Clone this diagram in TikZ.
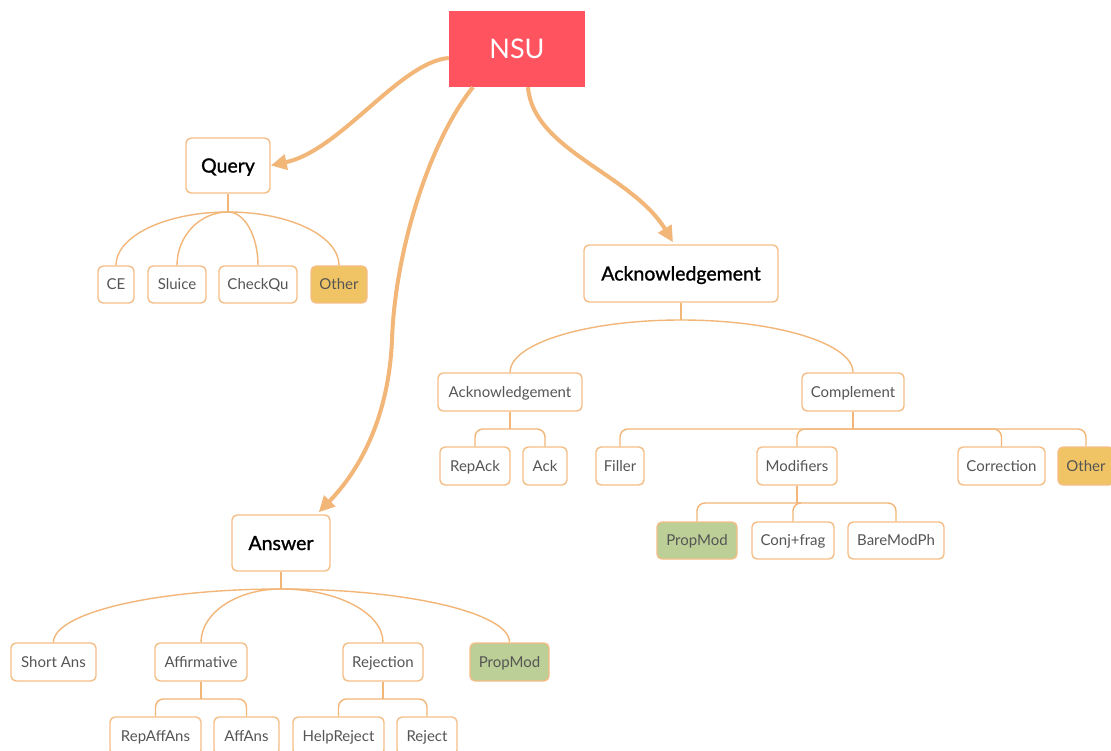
\documentclass[tikz,border=0pt]{standalone}
\usepackage{fontspec}
\setmainfont{Lato}
\newfontface\headfont{Lato}[FakeBold=1.2]
\usetikzlibrary{arrows.meta,calc}
\definecolor{nsured}{RGB}{255,84,96}
\definecolor{orline}{RGB}{242,182,120}
\definecolor{orbox}{RGB}{245,190,135}
\definecolor{yelfill}{RGB}{240,196,100}
\definecolor{grnfill}{RGB}{187,207,150}
\definecolor{subtext}{RGB}{85,85,85}
\newcommand\curvelink[2]{\draw[link] (#1) .. controls ($(#1)!0.552!(#2|-#1)$) and ($(#2)!0.552!(#2|-#1)$) .. (#2);}
\newcommand\elbowlink[2]{\draw[link, rounded corners=8pt] (#1) -| (#2);}
\begin{document}
\begin{tikzpicture}[x=1pt,y=-1pt,
  box/.style={draw=orbox, line width=1.4pt, rounded corners=5pt, fill=white, inner sep=0pt, anchor=center, text depth=0pt},
  head/.style={box, text=black, font=\headfont\fontsize{19.5}{22}\selectfont, text height=14pt},
  sub/.style={box, text=subtext, font=\fontsize{15}{18}\selectfont, minimum height=38pt, text height=10.75pt},
  other/.style={sub, fill=yelfill},
  prop/.style={sub, fill=grnfill},
  link/.style={draw=orline, line width=1.4pt},
  mainarrow/.style={draw=orline, line width=4pt, -{Triangle[length=16pt,width=15pt]}},
]
\useasboundingbox[fill=white] (0,0) rectangle (1111,751);

% root
\node[fill=nsured, minimum width=136pt, minimum height=76pt, text=white,
      font=\fontsize{27}{30}\selectfont, inner sep=0pt, text height=19.4pt, text depth=0pt] (nsu) at (517,49) {NSU};

% Query branch
\node[head, minimum width=84pt, minimum height=55pt] (query) at (228,165.5) {Query};
\node[sub, minimum width=36pt, minimum height=37pt] (ce) at (116,284.5) {CE};
\node[sub, minimum width=58pt, minimum height=37pt] (sluice) at (177,284.5) {Sluice};
\node[sub, minimum width=78pt, minimum height=37pt] (checkqu) at (258,284.5) {CheckQu};
\node[other, minimum width=56pt, minimum height=37pt] (otherq) at (339,284.5) {Other};

% Acknowledgement branch
\node[head, minimum width=194pt, minimum height=57pt] (ackbig) at (681,273.5) {Acknowledgement};
\node[sub, minimum width=144pt] (acksmall) at (510,392) {Acknowledgement};
\node[sub, minimum width=102pt] (compl) at (853,392) {Complement};
\node[sub, minimum width=70pt] (repack) at (475,466) {RepAck};
\node[sub, minimum width=44pt] (ack) at (545,466) {Ack};
\node[sub, minimum width=48pt] (filler) at (620,466) {Filler};
\node[sub, minimum width=80pt] (modif) at (797,466) {Modifiers};
\node[sub, minimum width=87pt] (corr) at (1001.5,466) {Correction};
\node[other, minimum width=56pt] (otherc) at (1086,466) {Other};
\node[prop, minimum width=80pt, minimum height=37pt] (propm) at (697,540.5) {PropMod};
\node[sub, minimum width=82pt, minimum height=37pt] (conj) at (793,540.5) {Conj+frag};
\node[sub, minimum width=96pt, minimum height=37pt] (bare) at (896,540.5) {BareModPh};

% Answer branch
\node[head, minimum width=98pt, minimum height=56pt] (answer) at (281,543) {Answer};
\node[sub, minimum width=85pt] (shortans) at (53.5,662) {Short Ans};
\node[sub, minimum width=92pt] (affirm) at (201,662) {Affirmative};
\node[sub, minimum width=80pt] (rejn) at (383,662) {Rejection};
\node[prop, minimum width=79pt] (propa) at (509.5,662) {PropMod};
\node[sub, minimum width=91pt] (repaff) at (155.5,736) {RepAffAns};
\node[sub, minimum width=65pt] (affans) at (246.5,736) {AffAns};
\node[sub, minimum width=91pt] (helprej) at (338.5,736) {HelpReject};
\node[sub, minimum width=60pt] (rejleaf) at (427,736) {Reject};

% bus points
\coordinate (qbus) at (228,212);
\coordinate (ackbus) at (681,320);
\coordinate (ansbus) at (281,589);
\coordinate (acksbus) at (510,429);
\coordinate (compbus) at (853,429);
\coordinate (modbus) at (797,503);
\coordinate (affbus) at (201,699);
\coordinate (rejbus) at (383,699);
\coordinate (ansmid) at (392,340);

% stems
\draw[link] (query.south) -- (qbus);
\draw[link] (ackbig.south) -- (ackbus);
\draw[link] (answer.south) -- (ansbus);
\draw[link] (acksmall.south) -- (acksbus);
\draw[link] (compl.south) -- (compbus);
\draw[link] (modif.south) -- (modbus);
\draw[link] (affirm.south) -- (affbus);
\draw[link] (rejn.south) -- (rejbus);

% curved fans
\curvelink{qbus}{ce.north}
\curvelink{qbus}{sluice.north}
\curvelink{qbus}{checkqu.north}
\curvelink{qbus}{otherq.north}
\curvelink{ackbus}{acksmall.north}
\curvelink{ackbus}{compl.north}
\curvelink{ansbus}{shortans.north}
\curvelink{ansbus}{affirm.north}
\curvelink{ansbus}{rejn.north}
\curvelink{ansbus}{propa.north}

% elbow links
\elbowlink{acksbus}{repack.north}
\elbowlink{acksbus}{ack.north}
\elbowlink{compbus}{filler.north}
\elbowlink{compbus}{modif.north}
\elbowlink{compbus}{corr.north}
\elbowlink{compbus}{otherc.north}
\elbowlink{modbus}{propm.north}
\elbowlink{modbus}{conj.north}
\elbowlink{modbus}{bare.north}
\elbowlink{affbus}{repaff.north}
\elbowlink{affbus}{affans.north}
\elbowlink{rejbus}{helprej.north}
\elbowlink{rejbus}{rejleaf.north}

% main arrows
\draw[mainarrow] ([yshift=-9pt]nsu.west) .. controls +(-49,4) and +(70,-15) .. (query.east);
\draw[mainarrow] ([xshift=-44pt]nsu.south) .. controls +(-43,53) and +(3,-90) .. (ansmid)
   .. controls +(-4,90) and +(32,-33) .. ([xshift=-12pt,yshift=2pt]answer.north east);
\draw[mainarrow] ([xshift=11pt]nsu.south) .. controls +(5,63) and +(-41,-68) .. ([xshift=-8pt,yshift=2pt]ackbig.north);
\end{tikzpicture}
\end{document}
